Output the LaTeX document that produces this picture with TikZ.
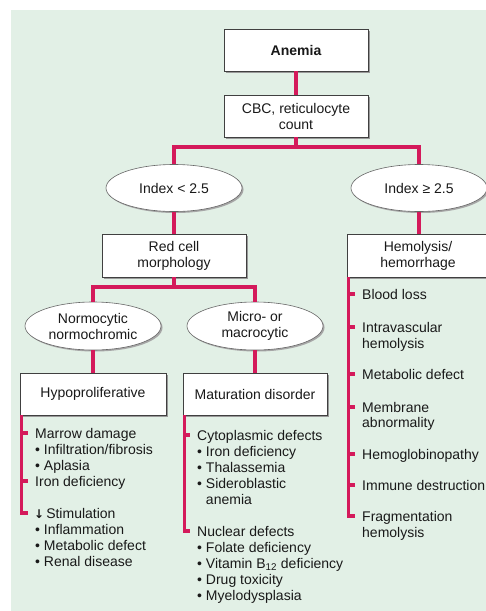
\documentclass[tikz,border=0pt]{standalone}
\usepackage{fontspec}
\setmainfont{Liberation Sans}
\newfontfamily\symfont{DejaVu Sans}
\usetikzlibrary{shapes.geometric,shadows}
\definecolor{bg}{HTML}{E2F0E6}
\definecolor{link}{HTML}{D41A5B}

\begin{document}
\begin{tikzpicture}[x=1pt, y=-1pt, font=\fontsize{14}{16}\selectfont,
    blk/.style={draw=black!75, line width=0.7pt, fill=white, text=black!90, align=center,
      minimum width=144pt, minimum height=42pt, inner sep=2pt,
      drop shadow={shadow xshift=2pt, shadow yshift=-2pt, fill=black!40, opacity=1}},
    ovl/.style={ellipse, draw=black!60, line width=0.6pt, fill=white, text=black!90, align=center,
      minimum width=136pt, minimum height=47pt, inner sep=0pt,
      drop shadow={shadow xshift=1.5pt, shadow yshift=-1.5pt, fill=black!35, opacity=1}},
    wire/.style={draw=link, line width=3.2pt},
    entry/.style={anchor=west, inner sep=0pt, text height=10pt, text depth=0pt, text=black!90}]

  \useasboundingbox (0,0) rectangle (486,611);
  \fill[white] (0,0) rectangle (486,611);
  \fill[bg] (11,10) rectangle (486,611);

  \node[blk, font=\fontsize{14}{16}\selectfont\bfseries] (anemia) at (296,50) {Anemia};
  \node[blk] (cbc) at (296,116) {CBC, reticulocyte\\count};
  \node[ovl] (low) at (174,188) {Index < 2.5};
  \node[ovl] (high) at (419,188) {Index ≥ 2.5};
  \node[blk, minimum height=43pt] (morph) at (174,255.5) {Red cell\\morphology};
  \node[blk, minimum width=142pt, minimum height=43pt] (hemo) at (418,255.5) {Hemolysis/\\hemorrhage};
  \node[ovl, minimum height=48pt] (normo) at (93,326) {Normocytic\\normochromic};
  \node[ovl, minimum height=48pt] (micro) at (255,326) {Micro- or\\macrocytic};
  \node[blk, minimum width=146pt] (hypo) at (93,394) {Hypoproliferative};
  \node[blk] (matur) at (255,394) {Maturation disorder};

  \node[entry] (marrow) at (35,433) {Marrow damage};
  \node[entry] (ironA) at (35,481) {Iron deficiency};
  \node[entry] (stim) at (34,513) {{\symfont\bfseries\fontsize{12}{16}\selectfont ↓}\kern2pt Stimulation};
  \foreach \y/\s in {449/{Infiltration/fibrosis}, 465/Aplasia, 529/Inflammation,
      545/Metabolic defect, 561/Renal disease}
    \node[entry] (h\y) at (35,\y) {\textbullet\ \s};

  \node[entry] (cyto) at (197,435) {Cytoplasmic defects};
  \node[entry] (nucl) at (197,531) {Nuclear defects};
  \foreach \y/\s in {451/Iron deficiency, 467/Thalassemia, 483/Sideroblastic,
      547/Folate deficiency, 563/{Vitamin B\textsubscript{12} deficiency},
      579/Drug toxicity, 595/Myelodysplasia}
    \node[entry] (m\y) at (197,\y) {\textbullet\ \s};
  \node[entry] (m499) at (197,499) {\phantom{\textbullet\ }anemia};

  \node[entry] (blood) at (362,294) {Blood loss};
  \node[entry] (intra) at (362,327) {Intravascular};
  \node[entry] (metab) at (362,374) {Metabolic defect};
  \node[entry] (memb) at (362,407) {Membrane};
  \node[entry] (hgb) at (362,454) {Hemoglobinopathy};
  \node[entry] (immune) at (362,485) {Immune destruction};
  \node[entry] (frag) at (362,516) {Fragmentation};
  \foreach \y/\s in {343/hemolysis, 422/abnormality, 532/hemolysis}
    \node[entry] (r\y) at (362,\y) {\s};

  \coordinate (j1) at (296,147);
  \coordinate (j2) at (174,287);
  \draw[wire] (anemia) -- (cbc);
  \draw[wire] (cbc) -- (j1);
  \draw[wire] (low.north) |- (j1) -| (high.north);
  \draw[wire] (low) -- (morph);
  \draw[wire] (high) -- (high |- hemo.north);
  \draw[wire] (morph) -- (j2);
  \draw[wire] (normo.north) |- (j2) -| (micro.north);
  \draw[wire] (normo) -- (hypo);
  \draw[wire] (micro) -- (matur);

  \coordinate (hs) at ([xshift=1.6pt]hypo.south west);
  \coordinate (ms) at ([xshift=1.6pt]matur.south west);
  \coordinate (rs) at ([xshift=1.6pt]hemo.south west);
  \draw[wire] (hs) |- ([xshift=-6pt]stim.west);
  \foreach \n in {marrow,ironA} \draw[wire] (hs |- \n.west) -- ([xshift=-7pt]\n.west);
  \draw[wire] (ms) |- ([xshift=-7pt]nucl.west);
  \draw[wire] (ms |- cyto.west) -- ([xshift=-7pt]cyto.west);
  \draw[wire] (rs) |- ([xshift=-7pt]frag.west);
  \foreach \n in {blood,intra,metab,memb,hgb,immune} \draw[wire] (rs |- \n.west) -- ([xshift=-7pt]\n.west);
\end{tikzpicture}
\end{document}
